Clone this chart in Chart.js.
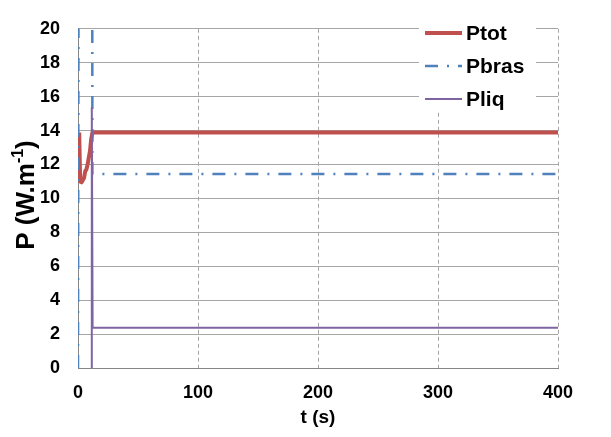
<!DOCTYPE html>
<html>
<head>
<meta charset="utf-8">
<script src="https://cdn.jsdelivr.net/npm/chart.js@4/dist/chart.umd.min.js"></script>
<style>
  html, body { margin: 0; padding: 0; background: #fff; }
  #wrap { width: 611px; height: 437px; }
</style>
</head>
<body>
<div id="wrap"><canvas id="powerChart"></canvas></div>
<script>
// values (t in s, P in W/m)
var tPtot = [1, 1.8, 3, 5, 6, 7, 8, 9, 10, 11, 12, 400];
var ptot = [13.88, 11.0, 10.95, 11.2, 11.6, 11.7, 12.0, 12.4, 12.8, 13.5, 13.88, 13.88];

var tPbras = [0, 0.6, 11.8, 12, 400];
var pbras = [0, 30, 30, 11.44, 11.44];

var tPliq = [11.4, 11.5, 12.2, 400];
var pliq = [0, 15.35, 2.38, 2.38];

var xTicks = [0, 100, 200, 300, 400];
var yTicks = [0, 2, 4, 6, 8, 10, 12, 14, 16, 18, 20];

var seriesNames = ['Ptot', 'Pbras', 'Pliq'];

function toPoints(xs, ys) {
  return xs.map(function(x, i) { return { x: x, y: ys[i] }; });
}

var font = 'Arial, "Liberation Sans", sans-serif';
var gridGray = '#a6a6a6';

// legend + axis titles drawn by hand (legend sits inside the plot, y title has a superscript)
var decorPlugin = {
  id: 'decor',
  afterDraw: function(chart) {
    var ctx = chart.ctx;
    ctx.save();

    // legend box
    ctx.fillStyle = '#fff';
    ctx.fillRect(419, 18, 117, 94);
    var rows = [33, 66, 99];
    chart.data.datasets.forEach(function(ds, i) {
      var y = rows[i];
      ctx.beginPath();
      ctx.strokeStyle = ds.borderColor;
      ctx.lineWidth = ds.borderWidth;
      ctx.setLineDash(ds.borderDash || []);
      ctx.moveTo(425, y);
      ctx.lineTo(462, y);
      ctx.stroke();
      ctx.setLineDash([]);
      ctx.fillStyle = '#000';
      ctx.font = 'bold 21px ' + font;
      ctx.textAlign = 'left';
      ctx.textBaseline = 'middle';
      ctx.fillText(ds.label, 466, y + 1);
    });

    // x title
    ctx.fillStyle = '#000';
    ctx.font = 'bold 19px ' + font;
    ctx.textAlign = 'center';
    ctx.textBaseline = 'middle';
    ctx.fillText('t (s)', 318, 418);

    // y title with superscript
    ctx.translate(27, 195);
    ctx.rotate(-Math.PI / 2);
    var bigFont = 'bold 26px ' + font;
    var supFont = 'bold 16px ' + font;
    ctx.font = bigFont;
    var w1 = ctx.measureText('P (W.m').width;
    var w3 = ctx.measureText(')').width;
    ctx.font = supFont;
    var w2 = ctx.measureText('-1').width;
    var x0 = -(w1 + w2 + w3) / 2;
    ctx.textAlign = 'left';
    ctx.font = bigFont;
    ctx.fillText('P (W.m', x0, 0);
    ctx.font = supFont;
    ctx.fillText('-1', x0 + w1, -8);
    ctx.font = bigFont;
    ctx.fillText(')', x0 + w1 + w2, 0);

    ctx.restore();
  }
};

var ctxP = document.getElementById('powerChart').getContext('2d');
var powerChart = new Chart(ctxP, {
  type: 'line',
  data: {
    datasets: [{
      label: seriesNames[0],
      data: toPoints(tPtot, ptot),
      borderColor: '#c0504d',
      borderWidth: 4,
      order: 2
    }, {
      label: seriesNames[1],
      data: toPoints(tPbras, pbras),
      borderColor: '#4f81bd',
      borderWidth: 2.5,
      borderDash: [13, 9, 2, 9],
      order: 1
    }, {
      label: seriesNames[2],
      data: toPoints(tPliq, pliq),
      borderColor: '#8064a2',
      borderWidth: 2,
      order: 0
    }]
  },
  options: {
    responsive: true,
    maintainAspectRatio: false,
    animation: false,
    parsing: false,
    elements: {
      point: { radius: 0 },
      line: { tension: 0, fill: false, borderCapStyle: 'butt', borderJoinStyle: 'round' }
    },
    layout: { padding: { top: 15, right: 53, bottom: 0, left: 0 } },
    plugins: {
      legend: { display: false },
      tooltip: { enabled: false }
    },
    scales: {
      x: {
        type: 'linear',
        min: 0,
        max: 400,
        afterBuildTicks: function(scale) {
          scale.ticks = xTicks.map(function(v) { return { value: v }; });
        },
        afterFit: function(scale) { scale.height = 69; },
        grid: { color: gridGray, lineWidth: 1, drawTicks: false },
        border: { display: true, color: '#868686', width: 1, dash: [4, 3] },
        ticks: {
          padding: 14,
          color: '#000',
          font: { family: font, size: 18, weight: 'bold' }
        }
      },
      y: {
        type: 'linear',
        min: 0,
        max: 20,
        afterBuildTicks: function(scale) {
          scale.ticks = yTicks.map(function(v) { return { value: v }; });
        },
        afterFit: function(scale) { scale.width = 78; },
        grid: { color: gridGray, lineWidth: 1, drawTicks: false },
        border: { display: true, color: '#868686', width: 1 },
        ticks: {
          padding: 18,
          color: '#000',
          font: { family: font, size: 18, weight: 'bold' }
        }
      }
    }
  },
  plugins: [decorPlugin]
});
</script>
</body>
</html>
